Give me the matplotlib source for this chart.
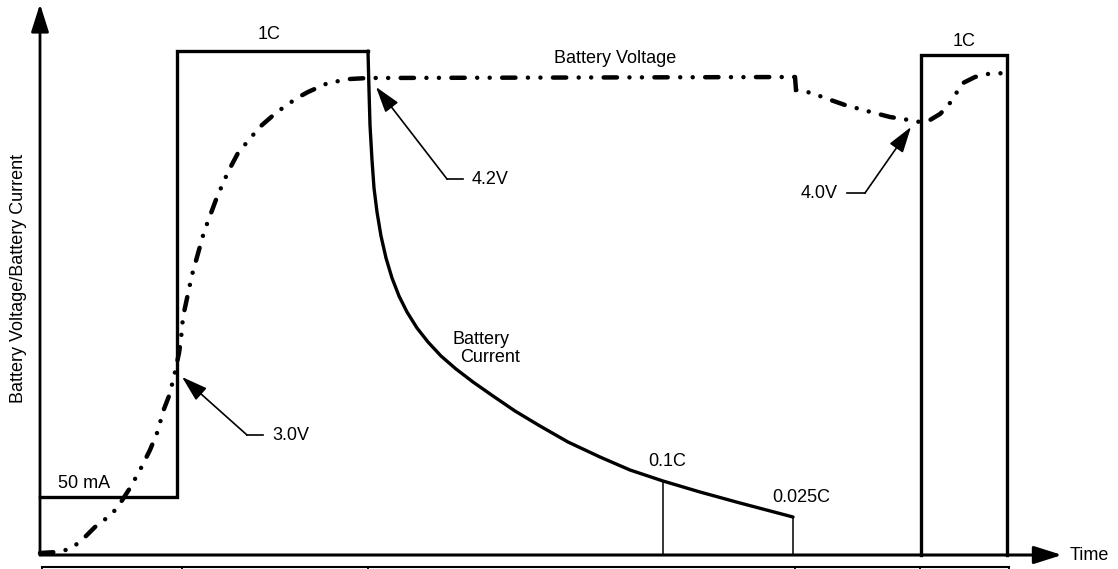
import matplotlib
matplotlib.use("Agg")
import matplotlib.pyplot as plt

plt.rcParams['font.family'] = ['Liberation Sans', 'DejaVu Sans']

# time axis runs 0..1022, level axis 0..551 (arbitrary units)
# battery current: precharge (50 mA), constant current (1C), then taper
cc_time = [0, 137, 137, 328]
cc_level = [58, 58, 504, 504]
taper_time = [328, 329, 330, 332, 334, 337, 341, 346, 352, 359, 367, 377, 388,
              401, 416, 433, 453, 475, 500, 528, 560, 590, 623, 660, 700, 753]
taper_level = [504, 465, 430, 395, 367, 343, 319, 297, 277, 259, 243, 227, 213,
               199, 186, 173, 159, 144, 129, 113, 98, 85, 74, 63, 52, 38]
recharge_time = [881, 881, 967, 967]
recharge_level = [0, 500, 500, 0]

# termination markers (0.1C and 0.025C)
mark_time = [623, 753]
mark_level = [74, 38]

# battery voltage: rise + CV plateau, then relaxation and recharge
rise_time = [0, 17, 30, 41, 55, 72, 81, 90, 100, 110, 117, 124, 129, 134, 139, 141, 143,
             152, 164, 177, 188, 198, 213, 222, 237, 257, 268, 288, 310, 328, 755]
rise_level = [2, 3, 6, 14, 28, 41, 53, 67, 85, 105, 122, 146, 159, 178, 202, 216, 238,
              280, 323, 358, 383, 402, 420, 430, 443, 457, 463, 472, 476, 477, 478]
relax_time = [755, 756, 772, 785, 805, 827, 850, 869, 880, 890, 900, 908, 915, 923, 935, 948, 965]
relax_level = [478, 465, 462, 457, 450, 444, 438, 435, 433, 435, 441, 449, 460, 472, 478, 481, 482]

# phase boundaries in the strip under the time axis
phase_edges = [2, 142, 328, 755, 880, 969]

fig = plt.figure(figsize=(11.18, 5.69), dpi=100)
ax = fig.add_axes([0, 0, 1, 1])
ax.set_xlim(-40, 1078)
ax.set_ylim(-14, 555)
ax.axis('off')

fs = 13
head = '-|>,head_length=0.85,head_width=0.27'

# axes with arrow heads
ax.annotate('', xy=(0, 551), xytext=(0, 0),
            arrowprops=dict(arrowstyle=head, lw=2, color='black', mutation_scale=20,
                            shrinkA=0, shrinkB=0))
ax.annotate('', xy=(1022, 0), xytext=(0, 0),
            arrowprops=dict(arrowstyle=head, lw=2.2, color='black', mutation_scale=20,
                            shrinkA=0, shrinkB=0))
ax.text(1030, 0, 'Time', fontsize=fs, va='center', ha='left')
ax.text(-21, 277, 'Battery Voltage/Battery Current', fontsize=fs, rotation=90,
        va='center', ha='center')

# phase strip
ax.plot([phase_edges[0], phase_edges[-1]], [-12, -12], color='black', lw=1.5, clip_on=False)
for e in phase_edges:
    ax.plot([e, e], [-12, -20], color='black', lw=1.3, clip_on=False)

# current
ax.plot(cc_time, cc_level, color='black', lw=2.4, solid_joinstyle='miter')
ax.plot(taper_time, taper_level, color='black', lw=2.4, solid_capstyle='round')
ax.plot(recharge_time, recharge_level, color='black', lw=2.4, solid_joinstyle='miter')
for t, v in zip(mark_time, mark_level):
    ax.plot([t, t], [0, v], color='black', lw=1.1)

# voltage, dash-dot-dot
vstyle = (0, (3.0, 2.8, 0.01, 2.8, 0.01, 2.8))
ax.plot(rise_time, rise_level, color='black', lw=3.2, dash_capstyle='round', linestyle=vstyle)
ax.plot(relax_time, relax_level, color='black', lw=3.2, dash_capstyle='round',
        dash_joinstyle='miter', linestyle=vstyle)

# leader arrows
leaders = [
    ('3.0V', (142, 178), (207, 120), (223, 120)),
    ('4.2V', (336, 468), (407, 376), (423, 376)),
    ('4.0V', (871, 428), (825, 362), (807, 362)),
]
for label, tip, knee, end in leaders:
    ax.plot([knee[0], end[0]], [knee[1], end[1]], color='black', lw=1.2)
    ax.annotate('', xy=tip, xytext=knee,
                arrowprops=dict(arrowstyle='-|>,head_length=0.8,head_width=0.25',
                                lw=1.2, color='black', mutation_scale=20,
                                shrinkA=0, shrinkB=0))
    if end[0] > knee[0]:
        ax.text(end[0] + 9, end[1], label, fontsize=fs, va='center', ha='left')
    else:
        ax.text(end[0] - 9, end[1], label, fontsize=fs, va='center', ha='right')

# labels
ax.text(229, 521, '1C', fontsize=fs, ha='center', va='center')
ax.text(924, 514, '1C', fontsize=fs, ha='center', va='center')
ax.text(575, 497, 'Battery Voltage', fontsize=fs, ha='center', va='center')
ax.text(413, 216, 'Battery', fontsize=fs, ha='left', va='center')
ax.text(420, 197, 'Current', fontsize=fs, ha='left', va='center')
ax.text(18, 71, '50 mA', fontsize=fs, ha='left', va='center')
ax.text(627, 94, '0.1C', fontsize=fs, ha='center', va='center')
ax.text(761, 58, '0.025C', fontsize=fs, ha='center', va='center')

fig.savefig('out.png', dpi=100)
